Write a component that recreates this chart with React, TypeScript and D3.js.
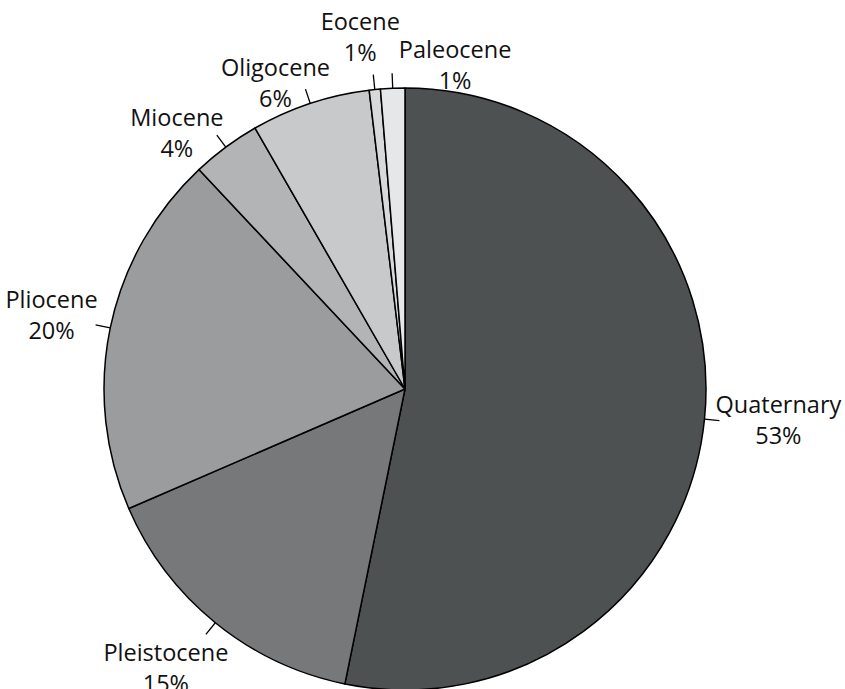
import React from "react";
import * as d3 from "d3";

const categories = ["Quaternary", "Pleistocene", "Pliocene", "Miocene", "Oligocene", "Eocene", "Paleocene"];
const values = [53.2, 15.3, 19.5, 3.7, 6.4, 0.6, 1.3];
const percentLabels = ["53%", "15%", "20%", "4%", "6%", "1%", "1%"];
const colors = ["#4d5152", "#77787a", "#9a9c9e", "#b3b4b6", "#c8c9cb", "#d8d9da", "#e6e7e8"];
// label block centre offset from the leader-line end (layout, not data)
const labelOffsets: [number, number][] = [
  [59, -1], [-40, 33], [-44, -10], [-40, -3], [-30, -7], [-13, -38], [63, -9],
];

const W = 845, H = 689;
const cx = 405, cy = 389, R = 301, TICK = 15;

export default function App() {
  const pie = d3.pie<number>().sort(null).value((d) => d)(values);
  const arc = d3.arc<d3.PieArcDatum<number>>().innerRadius(0).outerRadius(R);
  const lineGap = 31;
  return (
    <svg width={W} height={H} style={{ position: "absolute", left: 0, top: 0, background: "#fff" }}
      fontFamily="'Open Sans', sans-serif" fontSize={23.5}>
      <g transform={`translate(${cx},${cy})`}>
        {pie.map((p, i) => (
          <path key={i} d={arc(p) || ""} fill={colors[i]} stroke="#000" strokeWidth={1.5} strokeLinejoin="round" />
        ))}
        {pie.map((p, i) => {
          const a = (p.startAngle + p.endAngle) / 2;
          const sx = Math.sin(a), sy = -Math.cos(a);
          const x1 = R * sx, y1 = R * sy;
          const x2 = (R + TICK) * sx, y2 = (R + TICK) * sy;
          const [ox, oy] = labelOffsets[i];
          const lx = x2 + ox, ly = y2 + oy;
          return (
            <g key={"l" + i}>
              <line x1={x1} y1={y1} x2={x2} y2={y2} stroke="#000" strokeWidth={1.3} />
              <text x={lx} y={ly - lineGap / 2} textAnchor="middle" dominantBaseline="central" fill="#111">{categories[i]}</text>
              <text x={lx} y={ly + lineGap / 2} textAnchor="middle" dominantBaseline="central" fill="#111">{percentLabels[i]}</text>
            </g>
          );
        })}
      </g>
    </svg>
  );
}
